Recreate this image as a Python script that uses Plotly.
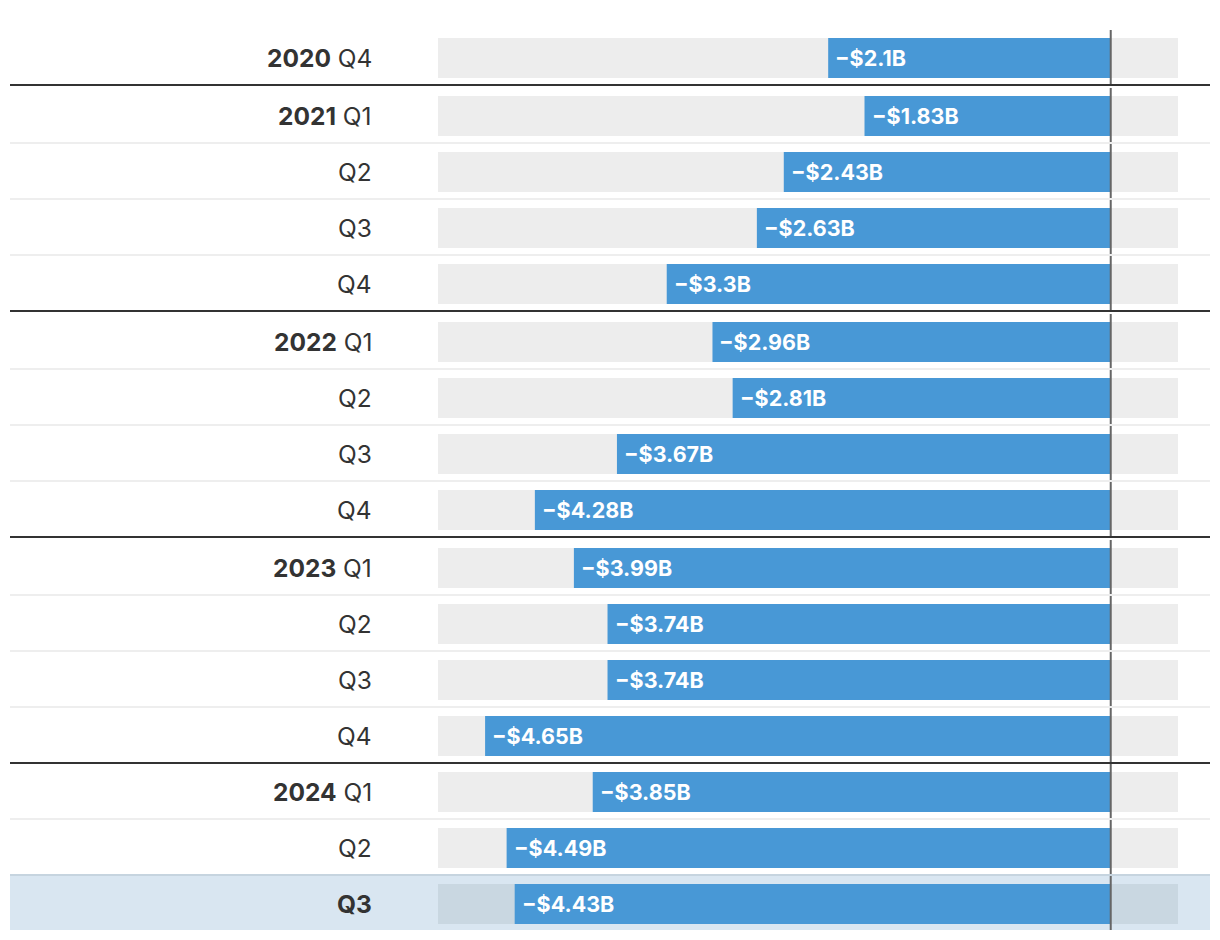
import plotly.graph_objects as go

# ---- data ----
years = [2020, 2021, 2021, 2021, 2021, 2022, 2022, 2022, 2022,
         2023, 2023, 2023, 2023, 2024, 2024, 2024]
quarters = ["Q4", "Q1", "Q2", "Q3", "Q4", "Q1", "Q2", "Q3", "Q4",
            "Q1", "Q2", "Q3", "Q4", "Q1", "Q2", "Q3"]
values = [-2.1, -1.83, -2.43, -2.63, -3.3, -2.96, -2.81, -3.67, -4.28,
          -3.99, -3.74, -3.74, -4.65, -3.85, -4.49, -4.43]
value_labels = [f"\u2212${abs(v):g}B" for v in values]

TRACK_MIN, TRACK_MAX = -5.0, 0.5
highlight_index = len(values) - 1

# ---- layout positions (pixel-like y units) ----
W, H = 1220, 940
ROW_STEP = 56
ypos = []
y = 58
for i in range(len(values)):
    if i > 0:
        extra = 2 if (years[i] != years[i - 1] and years[i] != years[-1]) else 0
        y += ROW_STEP + extra
    ypos.append(y)

BLUE = "#4898d6"
TRACK = "#ededed"
TRACK_HL = "#c9d7e1"
TEXT = "#333333"
FONT = "Inter"

fig = go.Figure()

# background tracks
fig.add_trace(go.Bar(
    y=ypos, x=[TRACK_MAX - TRACK_MIN] * len(values), base=[TRACK_MIN] * len(values),
    orientation="h", width=40,
    marker=dict(color=[TRACK_HL if i == highlight_index else TRACK for i in range(len(values))],
                line=dict(width=0)),
    hoverinfo="skip", showlegend=False,
))
# value bars
fig.add_trace(go.Bar(
    y=ypos, x=values, orientation="h", width=40,
    marker=dict(color=BLUE, line=dict(width=0)),
    hoverinfo="skip", showlegend=False,
))

shapes = []
annotations = []

# highlight row background
hy = ypos[highlight_index]
shapes.append(dict(type="rect", xref="paper", yref="y", x0=10 / W, x1=1210 / W,
                   y0=hy - 30, y1=hy + 26, fillcolor="#d9e6f1", line=dict(width=0), layer="below"))
shapes.append(dict(type="line", xref="paper", yref="y", x0=10 / W, x1=1210 / W,
                   y0=hy - 29, y1=hy - 29, line=dict(color="#c6d4df", width=2), layer="below"))

# separators
for i in range(1, len(values)):
    sy = ypos[i - 1] + 27
    if i == highlight_index:
        continue
    if years[i] != years[i - 1]:
        shapes.append(dict(type="line", xref="paper", yref="y", x0=10 / W, x1=1210 / W,
                           y0=sy, y1=sy, line=dict(color="#333333", width=2), layer="below"))
    else:
        shapes.append(dict(type="line", xref="paper", yref="y", x0=10 / W, x1=1210 / W,
                           y0=sy, y1=sy, line=dict(color="#eeeeee", width=2), layer="below"))

# zero line segments
for yy in ypos:
    shapes.append(dict(type="line", xref="x", yref="y", x0=0, x1=0, y0=yy - 28, y1=yy + 26,
                       line=dict(color="#666666", width=2), layer="above"))

# row labels
for i, yy in enumerate(ypos):
    if i == highlight_index:
        txt = f"<b>{quarters[i]}</b>"
    elif i == 0 or years[i] != years[i - 1]:
        txt = f"<b>{years[i]}</b> {quarters[i]}"
    else:
        txt = quarters[i]
    annotations.append(dict(xref="paper", yref="y", x=374 / W, y=yy, text=txt,
                            xanchor="right", yanchor="middle", showarrow=False,
                            font=dict(family=FONT, size=24.5, color=TEXT)))

# value labels
for i, yy in enumerate(ypos):
    annotations.append(dict(xref="x", yref="y", x=values[i], y=yy, text=f"<b>{value_labels[i]}</b>",
                            xanchor="left", yanchor="middle", xshift=5, showarrow=False,
                            font=dict(family=FONT, size=21.5, color="white")))

fig.update_layout(
    width=W, height=H,
    margin=dict(l=0, r=0, t=0, b=0),
    paper_bgcolor="white", plot_bgcolor="rgba(0,0,0,0)",
    barmode="overlay",
    xaxis=dict(domain=[438 / W, 1178 / W], range=[TRACK_MIN, TRACK_MAX], visible=False, fixedrange=True),
    yaxis=dict(domain=[0, 1], range=[H, 0], visible=False, fixedrange=True),
    shapes=shapes, annotations=annotations,
    font=dict(family=FONT),
)

fig.write_html("out.html", config={"displayModeBar": False},
               post_script="document.body.style.margin='0';document.body.style.overflow='hidden';")
